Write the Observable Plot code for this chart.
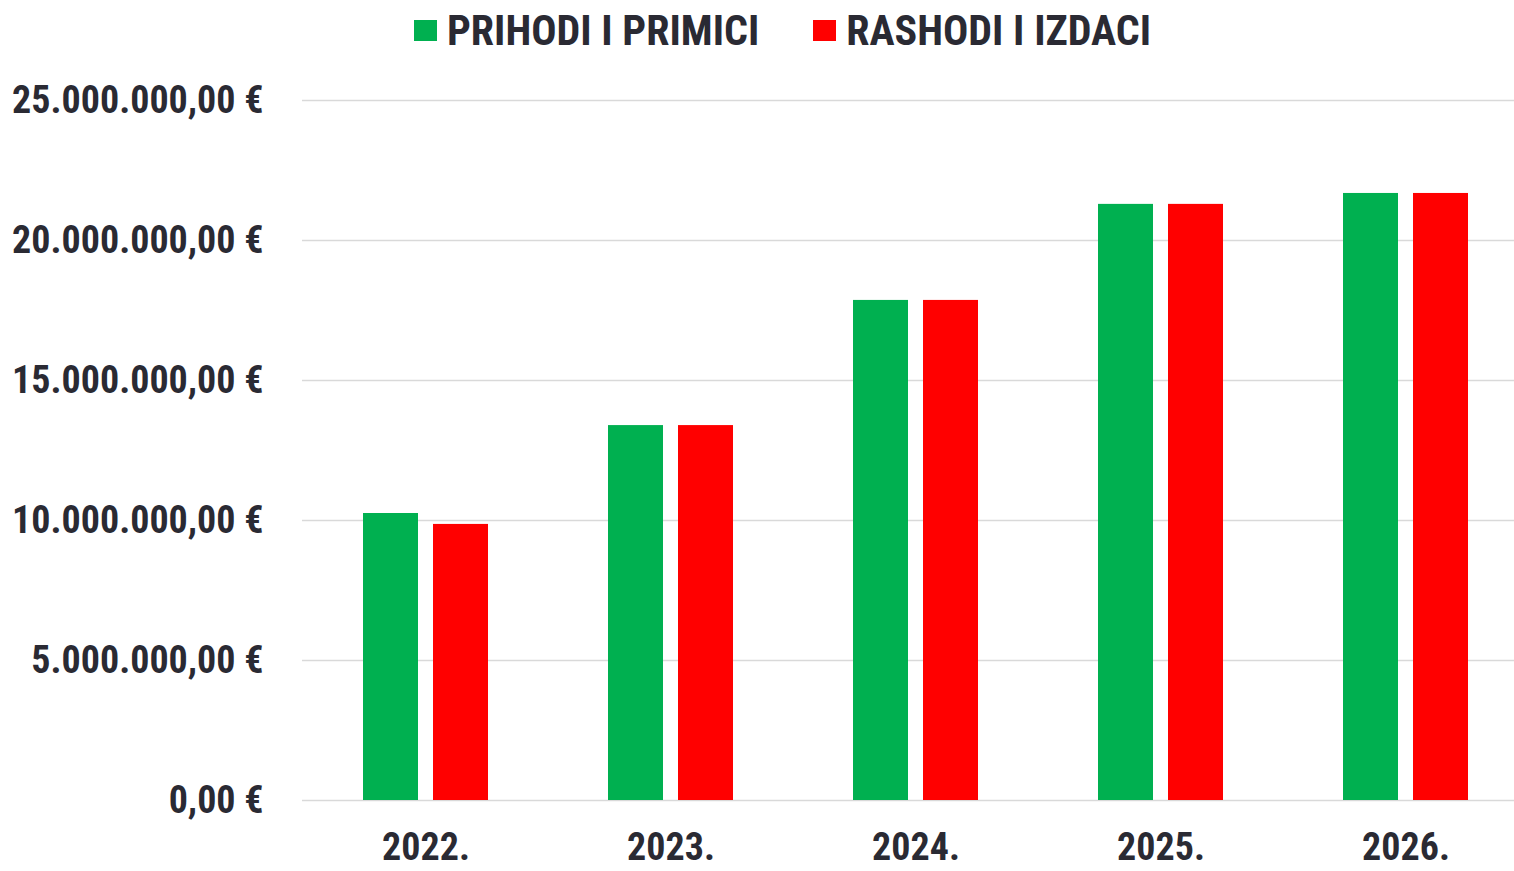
<!DOCTYPE html>
<html>
<head>
<meta charset="utf-8">
<script src="https://cdn.jsdelivr.net/npm/d3@7"></script>
<script src="https://cdn.jsdelivr.net/npm/@observablehq/plot@0.6"></script>
<style>
  html, body { margin: 0; padding: 0; background: #fff; overflow: hidden; }
  #wrap { width: 1514px; height: 871px; position: relative; }
  .font { font-family: 'Liberation Sans Narrow', 'Arial Narrow', 'Roboto Condensed', sans-serif; font-weight: bold; color: #2a2a33; }
  #legend { height: 60px; display: flex; align-items: center; padding-left: 414px; box-sizing: border-box; font-size: 42px; }
  .item { display: flex; align-items: center; }
  .sw { width: 23px; height: 21px; margin-right: 10px; }
</style>
</head>
<body>
<div id="wrap" class="font">
  <div id="legend"></div>
  <div id="chart"></div>
</div>
<script>
const years = ["2022.", "2023.", "2024.", "2025.", "2026."];
const series = ["PRIHODI I PRIMICI", "RASHODI I IZDACI"];
const colors = ["#00b050", "#ff0000"];
const prihodi = [10250000, 13390000, 17860000, 21290000, 21680000];
const rashodi = [9860000, 13390000, 17860000, 21290000, 21680000];
const yTicks = [0, 5000000, 10000000, 15000000, 20000000, 25000000];

const loc = d3.formatLocale({decimal: ",", thousands: ".", grouping: [3], currency: ["", " €"]});
const fmt = loc.format("$,.2f");

const dataP = years.map((y, i) => ({year: y, value: prihodi[i], series: series[0]}));
const dataR = years.map((y, i) => ({year: y, value: rashodi[i], series: series[1]}));

// legend
const legend = document.getElementById("legend");
series.forEach((s, i) => {
  const it = document.createElement("div");
  it.className = "item";
  if (i > 0) it.style.marginLeft = "54px";
  const sw = document.createElement("div");
  sw.className = "sw";
  sw.style.background = colors[i];
  const t = document.createElement("span");
  t.textContent = s;
  it.appendChild(sw); it.appendChild(t);
  legend.appendChild(it);
});

const chart = Plot.plot({
  width: 1514,
  height: 811,
  marginTop: 40,
  marginBottom: 71,
  marginLeft: 302,
  marginRight: -14,
  style: {
    fontFamily: "'Liberation Sans Narrow', 'Arial Narrow', 'Roboto Condensed', sans-serif",
    fontSize: "38px",
    fontWeight: "bold",
    color: "#2a2a33",
    background: "white"
  },
  x: {domain: years, paddingInner: 0.49, paddingOuter: 0.245, align: 0.5, label: null, tickSize: 0, tickPadding: 33},
  y: {domain: [0, 25000000], ticks: yTicks, tickFormat: fmt, label: null, tickSize: 0, tickPadding: 39},
  color: {domain: series, range: colors},
  marks: [
    Plot.ruleY(yTicks, {stroke: "#d9d9d9", strokeWidth: 1.5}),
    Plot.barY(dataP, {x: "year", y: "value", fill: "series", insetRight: 70}),
    Plot.barY(dataR, {x: "year", y: "value", fill: "series", insetLeft: 70})
  ]
});
document.getElementById("chart").appendChild(chart);
</script>
</body>
</html>
